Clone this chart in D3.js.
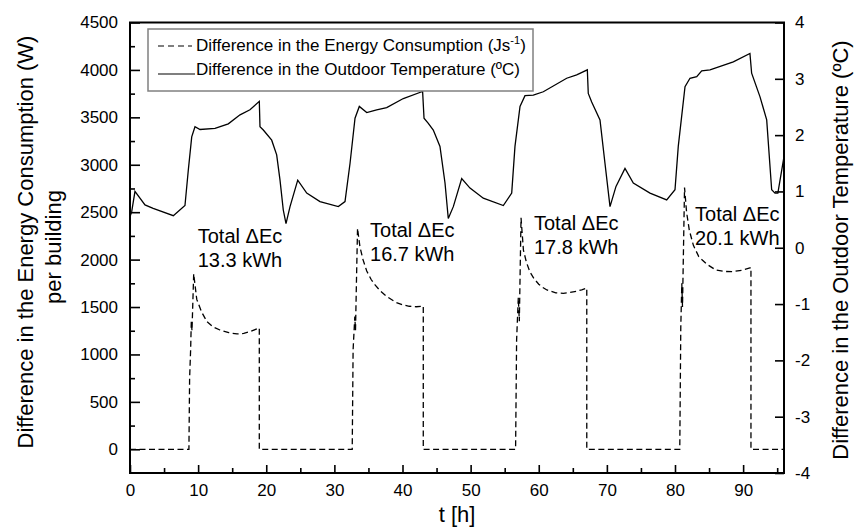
<!DOCTYPE html>
<html>
<head>
<meta charset="utf-8">
<script src="https://cdn.jsdelivr.net/npm/d3@7"></script>
<style>
  body { margin: 0; background: #fff; }
  svg text { font-family: "Liberation Sans", Arial, sans-serif; fill: #000; }
  .axis path { display: none; }
  .axis line { stroke: #000; stroke-width: 1.6; }
  .axis text { font-size: 17px; }
</style>
</head>
<body>
<div class="vis"></div>
<script>

//  DATA  //

// energy consumption difference (W), left axis
var energyT = [0, 8.65, 8.75, 8.9, 9.0, 9.1, 9.35, 9.8, 10.5, 11.3, 12.2, 13.2, 14.5, 15.7, 16.7, 17.6, 18.98, 18.98,
  32.62, 32.75, 33.0, 33.1, 33.25, 33.4, 33.75, 34.2, 34.75, 35.4, 36, 36.8, 37.7, 39, 40.1, 41, 42, 43.05, 43.05,
  56.6, 56.75, 57.0, 57.15, 57.4, 57.75, 58.2, 58.7, 59.3, 60, 60.6, 61.2, 62.5, 63.6, 64.5, 65.5, 66.3, 67.05, 67.05,
  80.7, 80.85, 81.0, 81.1, 81.4, 81.7, 82.1, 82.7, 83.5, 84.7, 86, 87.2, 88.5, 89.8, 91.0, 91.15, 91.15, 96];
var energyW = [0, 0, 750, 1050, 1350, 1250, 1850, 1580, 1450, 1345, 1290, 1258, 1230, 1216, 1222, 1240, 1280, 0,
  0, 1050, 1400, 1250, 1800, 2330, 2136, 2000, 1880, 1790, 1730, 1665, 1610, 1550, 1521, 1508, 1503, 1510, 0,
  0, 1150, 1600, 1350, 2440, 2100, 1970, 1870, 1800, 1740, 1705, 1680, 1650, 1645, 1652, 1665, 1682, 1700, 0,
  0, 1290, 1750, 1500, 2760, 2500, 2310, 2150, 2030, 1950, 1890, 1875, 1873, 1888, 1912, 1915, 0, 0];

// outdoor temperature difference (ºC), right axis
var tempT = [0, 0.25, 0.73, 2.2, 3.4, 6.36, 8.07, 8.56, 9.06, 9.54, 10.28, 12.48, 14.43, 16.15, 17.61, 18.98,
  19.08, 19.57, 20.8, 21.53, 22.02, 22.5, 22.9, 23.49, 24.62, 25.94, 27.89, 30.58, 31.56, 32.3, 33.03,
  33.66, 34.75, 36.21, 37.68, 40.12, 42.82, 42.95, 43.16, 43.79, 44.52, 45.5, 46.24, 46.72, 47.46, 48.69,
  49.91, 51.86, 54.8, 56.03, 56.51, 57.25, 57.98, 59.2, 60.67, 64.1, 65.57, 67.13, 67.27, 67.77, 68.99,
  69.72, 70.46, 71.34, 72.66, 73.88, 76.33, 78.78, 80.0, 80.48, 81.47, 82.2, 83.19, 83.92, 85.14, 88.56,
  91.0, 91.25, 92.48, 93.46, 94.19, 94.68, 95.1, 96];
var tempC = [0.55, 0.64, 1.0, 0.76, 0.70, 0.57, 0.75, 1.38, 1.97, 2.15, 2.10, 2.12, 2.20, 2.36, 2.45, 2.60,
  2.15, 2.09, 1.91, 1.65, 1.20, 0.67, 0.43, 0.73, 1.20, 0.97, 0.82, 0.73, 0.82, 1.50, 2.30,
  2.51, 2.40, 2.45, 2.49, 2.65, 2.77, 2.78, 2.30, 2.21, 2.09, 1.80, 1.15, 0.52, 0.73, 1.23,
  1.06, 0.88, 0.75, 0.97, 1.80, 2.51, 2.70, 2.71, 2.77, 3.01, 3.07, 3.16, 2.74, 2.59, 2.27,
  1.50, 0.73, 1.09, 1.41, 1.15, 0.97, 0.85, 1.03, 1.80, 2.86, 3.01, 3.04, 3.14, 3.16, 3.30,
  3.45, 3.10, 2.68, 2.27, 1.03, 0.97, 0.97, 1.62];

// daily totals annotations
var totalT = [9.94, 35.23, 59.3, 82.94];
var totalW = [2249, 2312, 2381, 2486];
var totalLabels = ["13.3 kWh", "16.7 kWh", "17.8 kWh", "20.1 kWh"];

// ticks
var xTicks = [0, 10, 20, 30, 40, 50, 60, 70, 80, 90];
var xMinorTicks = [5, 15, 25, 35, 45, 55, 65, 75, 85, 95];
var leftTicks = [0, 500, 1000, 1500, 2000, 2500, 3000, 3500, 4000, 4500];
var leftMinorTicks = [250, 750, 1250, 1750, 2250, 2750, 3250, 3750, 4250];
var rightTicks = [-4, -3, -2, -1, 0, 1, 2, 3, 4];


//  SVG  //

var width = 861, height = 531;
var plot = { left: 130, right: 784, top: 22.5, bottom: 473 };

var svg = d3.select(".vis").append("svg")
  .attr("width", width)
  .attr("height", height);

svg.append("rect").attr("width", width).attr("height", height).attr("fill", "#fff");

var x = d3.scaleLinear().domain([0, 96]).range([plot.left, plot.right]);
var yLeft = d3.scaleLinear().domain([-250, 4500]).range([plot.bottom, plot.top]);
var yRight = d3.scaleLinear().domain([-4, 4]).range([plot.bottom, plot.top]);

// axes, ticks pointing inward
svg.append("g").attr("class", "axis")
  .attr("transform", "translate(0," + plot.bottom + ")")
  .call(d3.axisBottom(x).tickValues(xTicks).tickSizeInner(-8).tickSizeOuter(0).tickPadding(11).tickFormat(String));
svg.append("g").attr("class", "axis")
  .attr("transform", "translate(0," + plot.bottom + ")")
  .call(d3.axisBottom(x).tickValues(xMinorTicks).tickSizeInner(-5).tickSizeOuter(0).tickFormat(""));

svg.append("g").attr("class", "axis")
  .attr("transform", "translate(" + plot.left + ",0)")
  .call(d3.axisLeft(yLeft).tickValues(leftTicks).tickSizeInner(-10).tickSizeOuter(0).tickPadding(12).tickFormat(String));
svg.append("g").attr("class", "axis")
  .attr("transform", "translate(" + plot.left + ",0)")
  .call(d3.axisLeft(yLeft).tickValues(leftMinorTicks).tickSizeInner(-5).tickSizeOuter(0).tickFormat(""));

svg.append("g").attr("class", "axis")
  .attr("transform", "translate(" + plot.right + ",0)")
  .call(d3.axisRight(yRight).tickValues(rightTicks).tickSizeInner(-9).tickSizeOuter(0).tickPadding(11).tickFormat(String));

// frame
svg.append("rect")
  .attr("x", plot.left).attr("y", plot.top)
  .attr("width", plot.right - plot.left).attr("height", plot.bottom - plot.top)
  .attr("fill", "none").attr("stroke", "#000").attr("stroke-width", 2);

// lines
var energyLine = d3.line()
  .x(function(d, i) { return x(energyT[i]); })
  .y(function(d) { return yLeft(d); });
var tempLine = d3.line()
  .x(function(d, i) { return x(tempT[i]); })
  .y(function(d) { return yRight(d); });

svg.append("path")
  .datum(energyW)
  .attr("d", energyLine)
  .attr("fill", "none").attr("stroke", "#000")
  .attr("stroke-width", 1.3).attr("stroke-dasharray", "6,3.5");

svg.append("path")
  .datum(tempC)
  .attr("d", tempLine)
  .attr("fill", "none").attr("stroke", "#000")
  .attr("stroke-width", 1.3);

// annotations
var ann = svg.append("g").selectAll("g")
  .data(totalLabels)
  .enter().append("g")
  .attr("transform", function(d, i) { return "translate(" + x(totalT[i]) + "," + yLeft(totalW[i]) + ")"; });
ann.append("text").attr("dy", "0.35em").style("font-size", "20px").text("Total \u0394Ec");
ann.append("text").attr("y", 24).attr("dy", "0.35em").style("font-size", "20px").text(function(d) { return d; });

// legend
var legend = svg.append("g");
legend.append("rect")
  .attr("x", 148).attr("y", 29).attr("width", 385).attr("height", 62)
  .attr("fill", "#fff").attr("stroke", "#808080").attr("stroke-width", 1.5);
legend.append("line")
  .attr("x1", 158).attr("x2", 192).attr("y1", 46).attr("y2", 46)
  .attr("stroke", "#000").attr("stroke-width", 1.2).attr("stroke-dasharray", "6,4");
legend.append("line")
  .attr("x1", 158).attr("x2", 195).attr("y1", 74).attr("y2", 74)
  .attr("stroke", "#000").attr("stroke-width", 1.2);
var l1 = legend.append("text").attr("x", 196).attr("y", 51).style("font-size", "17px")
  .text("Difference in the Energy Consumption (Js");
l1.append("tspan").attr("dy", -7).style("font-size", "11px").text("-1");
l1.append("tspan").attr("dy", 7).text(")");
legend.append("text").attr("x", 196).attr("y", 75).style("font-size", "17px")
  .text("Difference in the Outdoor Temperature (\u00baC)");

// axis titles
svg.append("text")
  .attr("transform", "translate(25,242) rotate(-90)")
  .attr("text-anchor", "middle").attr("dy", "0.35em")
  .style("font-size", "22px")
  .text("Difference in the Energy Consumption (W)");
svg.append("text")
  .attr("transform", "translate(53,247) rotate(-90)")
  .attr("text-anchor", "middle").attr("dy", "0.35em")
  .style("font-size", "22px")
  .text("per building");
svg.append("text")
  .attr("transform", "translate(840,250) rotate(-90)")
  .attr("text-anchor", "middle").attr("dy", "0.35em")
  .style("font-size", "22px")
  .text("Difference in the Outdoor Temperature (\u00baC)");
svg.append("text")
  .attr("x", (plot.left + plot.right) / 2).attr("y", 522)
  .attr("text-anchor", "middle")
  .style("font-size", "22px")
  .text("t [h]");

</script>
</body>
</html>
